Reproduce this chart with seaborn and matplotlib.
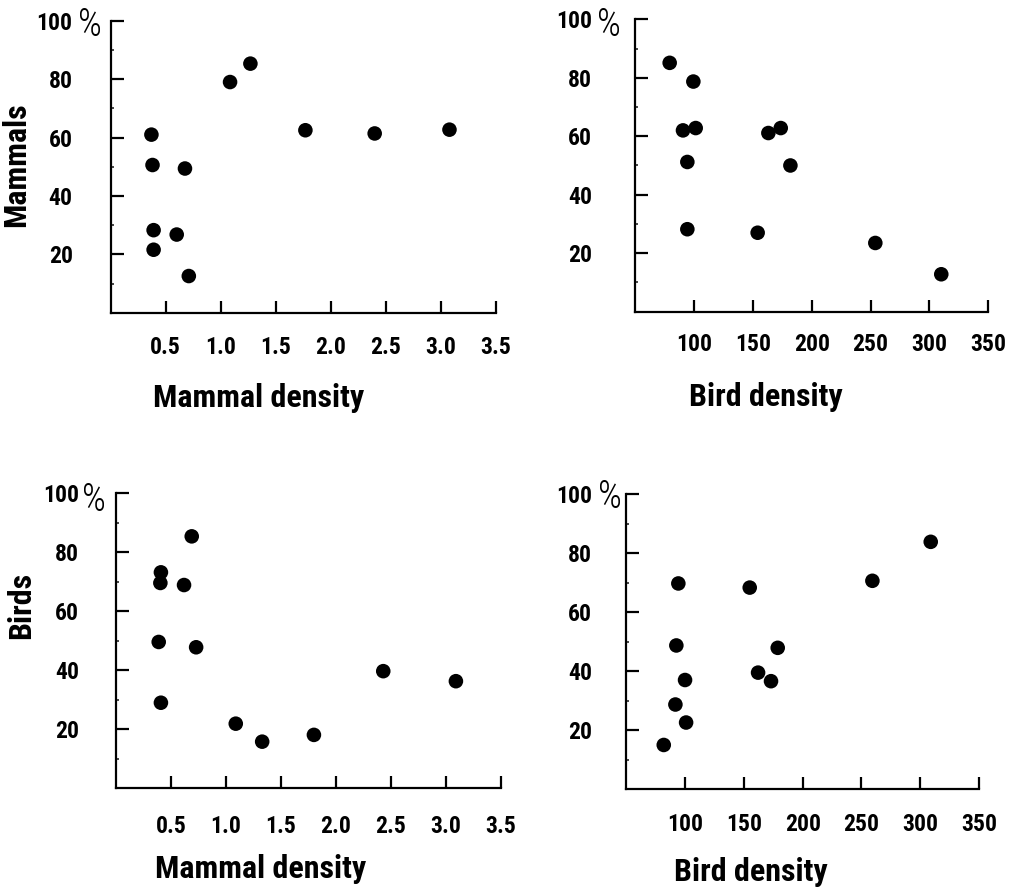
import numpy as np
import pandas as pd
import matplotlib
matplotlib.use("Agg")
import matplotlib.pyplot as plt
import seaborn as sns
from matplotlib import font_manager
from matplotlib.ticker import MultipleLocator

# values (percent vs density)
mam_vs_mam_x = [0.37, 0.38, 0.675, 0.39, 0.60, 0.39, 0.71, 1.085, 1.27, 1.77, 2.40, 3.08]
mam_vs_mam_y = [61.0, 50.6, 49.4, 28.3, 26.8, 21.6, 12.6, 79.0, 85.3, 62.5, 61.4, 62.7]

mam_vs_bird_x = [79.4, 99.5, 90.7, 101.5, 94.4, 94.4, 163.2, 173.7, 181.9, 154.1, 254.0, 310.0]
mam_vs_bird_y = [85.1, 78.7, 62.0, 62.8, 51.2, 28.2, 61.1, 62.8, 50.0, 27.0, 23.5, 12.8]

bird_vs_mam_x = [0.69, 0.41, 0.405, 0.62, 0.39, 0.73, 0.41, 1.09, 1.33, 1.80, 2.43, 3.09]
bird_vs_mam_y = [85.4, 73.2, 69.6, 68.9, 49.6, 47.8, 29.0, 21.9, 15.8, 18.1, 39.7, 36.3]

bird_vs_bird_x = [308.9, 259.3, 94.3, 155.0, 92.6, 178.8, 162.1, 173.1, 100.0, 91.8, 100.9, 81.9]
bird_vs_bird_y = [83.8, 70.6, 69.7, 68.3, 48.7, 47.9, 39.5, 36.6, 37.0, 28.7, 22.6, 15.0]

y_ticks = [20, 40, 60, 80, 100]
mam_ticks = [0.5, 1.0, 1.5, 2.0, 2.5, 3.0, 3.5]
mam_labels = ["0.5", "1.0", "1.5", "2.0", "2.5", "3.0", "3.5"]
bird_ticks = [100, 150, 200, 250, 300, 350]
bird_labels = ["100", "150", "200", "250", "300", "350"]

sns.set_style("ticks")

# look for a narrow family, the original uses a condensed gothic
installed = {f.name for f in font_manager.fontManager.ttflist}
narrow = None
for cand in ["Roboto Condensed", "Liberation Sans Narrow", "Open Sans Condensed",
             "DejaVu Sans Condensed"]:
    if cand in installed:
        narrow = cand
        break

if narrow:
    plt.rcParams['font.family'] = [narrow, 'DejaVu Sans']
    tick_size, label_size = 17, 23
else:
    plt.rcParams['font.family'] = ['DejaVu Sans']
    tick_size, label_size = 13, 18
plt.rcParams['font.weight'] = 'bold'

fig = plt.figure(figsize=(10.13, 8.88), dpi=100)

panels = [
    dict(rect=[0.1093, 0.6477, 0.380, 0.329], x=mam_vs_mam_x, y=mam_vs_mam_y,
         xlim=(0, 3.5), xt=mam_ticks, xl=mam_labels, xlab="Mammal density", ylab="Mammals",
         xlc=(0.383, -0.240), ylc=(-0.207, 0.506), ypad=27.4, xpad=16.5, pct=(-15, -3)),
    dict(rect=[0.6269, 0.649, 0.3488, 0.3293], x=mam_vs_bird_x, y=mam_vs_bird_y,
         xlim=(50, 350), xt=bird_ticks, xl=bird_labels, xlab="Bird density", ylab=None,
         xlc=(0.37, -0.240), ylc=None, ypad=31.0, xpad=15.5, pct=(-19, -4)),
    dict(rect=[0.1143, 0.1123, 0.3803, 0.3322], x=bird_vs_mam_x, y=bird_vs_mam_y,
         xlim=(0, 3.5), xt=mam_ticks, xl=mam_labels, xlab="Mammal density", ylab="Birds",
         xlc=(0.377, -0.222), ylc=(-0.207, 0.62), ypad=26.6, xpad=19.0, pct=(-16, -5)),
    dict(rect=[0.6182, 0.1112, 0.3483, 0.3325], x=bird_vs_bird_x, y=bird_vs_bird_y,
         xlim=(50, 350), xt=bird_ticks, xl=bird_labels, xlab="Bird density", ylab=None,
         xlc=(0.353, -0.230), ylc=None, ypad=24.8, xpad=17.0, pct=(-12, -2)),
]

for p in panels:
    ax = fig.add_axes(p["rect"])
    df = pd.DataFrame({"x": p["x"], "y": p["y"]})
    sns.scatterplot(data=df, x="x", y="y", ax=ax, color="black", s=110,
                    edgecolor="none", linewidth=0, zorder=3, clip_on=False)
    ax.set_xlim(*p["xlim"])
    ax.set_ylim(0, 100)
    sns.despine(ax=ax)
    for side in ["left", "bottom"]:
        ax.spines[side].set_linewidth(1.6)
        ax.spines[side].set_color("black")

    ax.set_xticks(p["xt"])
    ax.set_xticklabels(p["xl"])
    ax.set_yticks(y_ticks)
    ax.set_yticklabels([str(v) for v in y_ticks])
    ax.yaxis.set_minor_locator(MultipleLocator(10))
    ax.tick_params(axis="both", which="major", direction="in", length=9, width=1.6,
                   labelsize=tick_size, colors="black")
    ax.tick_params(axis="y", which="minor", direction="in", length=2.5, width=1.2)
    ax.tick_params(axis="y", which="major", pad=p["ypad"])
    ax.tick_params(axis="x", which="major", pad=p["xpad"])
    for t in ax.get_xticklabels() + ax.get_yticklabels():
        t.set_fontweight("bold")

    # the "%" sign next to the 100 tick label
    ax.annotate("%", xy=(0, 100), xycoords=("axes fraction", "data"),
                xytext=p["pct"], textcoords="offset points",
                ha="center", va="center", fontsize=27, fontweight="light",
                color="black")

    ax.set_xlabel(p["xlab"], fontsize=label_size, fontweight="bold", color="black")
    ax.xaxis.set_label_coords(*p["xlc"])
    if p["ylab"]:
        ax.set_ylabel(p["ylab"], fontsize=label_size, fontweight="bold", color="black")
        ax.yaxis.set_label_coords(*p["ylc"])
    else:
        ax.set_ylabel("")

fig.savefig("out.png", dpi=100)
